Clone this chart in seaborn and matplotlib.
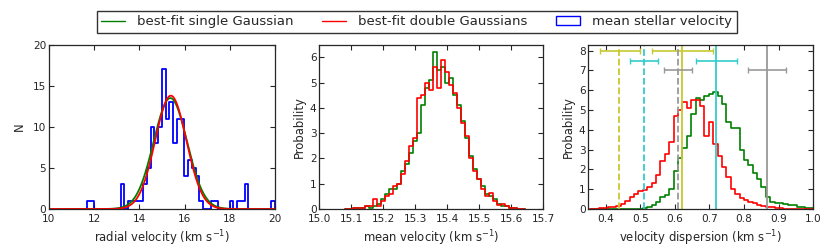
import numpy as np
import pandas as pd
import matplotlib
matplotlib.use("Agg")
import matplotlib.pyplot as plt
import seaborn as sns

sns.set_style("ticks")
plt.rcParams['font.family'] = ['DejaVu Sans']
plt.rcParams['font.size'] = 7.5

# ---------------- Panel 1: radial velocity histogram ----------------
rv_bin_start = 11.68
rv_bin_width = 0.166
rv_counts = [1, 1, 0, 0, 0, 0, 0, 0, 0, 3,
             0, 1, 1, 1, 1, 3, 5, 10, 8, 10,
             17, 11, 13, 8, 11, 11, 4, 6, 5, 4,
             1, 0, 0, 1, 1, 0, 0, 0, 1, 0,
             1, 1, 3, 0, 0, 0, 0, 0, 0, 1]
# Gaussian fit parameters: amplitude, mean, sigma
single_fit = [13.5, 15.37, 0.74]
double_fit = [[10.5, 15.40, 0.68], [3.3, 15.36, 0.72]]

# ---------------- Panel 2: mean velocity posterior ----------------
mv_bin_start = 15.08
mv_bin_width = 0.0125
mv_single = [0.02, 0.0, 0.03, 0.05, 0.05, 0.1, 0.05, 0.1, 0.2, 0.4,
             0.6, 0.8, 0.8, 1.0, 1.5, 1.8, 2.2, 2.7, 3.0, 4.1,
             4.8, 5.1, 6.2, 5.5, 5.6, 5.0, 5.2, 4.5, 4.1, 3.5,
             2.8, 2.1, 1.6, 1.2, 0.9, 0.6, 0.5, 0.4, 0.2, 0.1,
             0.1, 0.05, 0.03, 0.02, 0.0]
mv_double = [0.0, 0.0, 0.05, 0.05, 0.05, 0.1, 0.1, 0.4, 0.1, 0.3,
             0.5, 0.6, 0.9, 1.0, 1.4, 1.9, 2.5, 2.8, 4.4, 4.5,
             5.0, 4.7, 5.6, 4.8, 5.9, 5.4, 4.9, 4.6, 4.0, 3.4,
             2.9, 2.0, 1.5, 1.2, 0.8, 0.5, 0.65, 0.3, 0.15, 0.2,
             0.1, 0.05, 0.03, 0.02, 0.02]

# ---------------- Panel 3: velocity dispersion posterior ----------------
vd_bin_start = 0.355
vd_bin_width = 0.0127
vd_single = [0, 0, 0, 0, 0, 0, 0, 0, 0, 0,
             0, 0, 0.05, 0.1, 0.2, 0.35, 0.6, 0.7, 1.0, 1.9,
             2.6, 3.1, 3.7, 4.8, 5.6, 5.5, 5.7, 5.8, 5.9, 5.7,
             5.3, 4.4, 4.1, 4.1, 3.0, 2.5, 2.2, 1.8, 1.5, 1.1,
             0.6, 0.35, 0.3, 0.3, 0.25, 0.2, 0.2, 0.1, 0.1, 0.05, 0.05]
vd_double = [0.0, 0.02, 0.05, 0.05, 0.1, 0.1, 0.15, 0.25, 0.4, 0.6,
             0.75, 0.9, 0.95, 1.1, 1.3, 1.7, 2.4, 2.8, 3.4, 4.7,
             5.0, 5.4, 5.1, 5.5, 5.5, 5.2, 3.7, 4.4, 3.3, 2.7,
             2.1, 1.6, 1.0, 0.75, 0.55, 0.45, 0.35, 0.3, 0.2, 0.15,
             0.1, 0.1, 0.05, 0.05, 0.02, 0.0, 0.0, 0.0, 0.0, 0.0, 0.0]

# reference dispersions: value, lower err, upper err, y position
ref_values = [0.44, 0.62, 0.51, 0.72, 0.61, 0.865]
ref_err_lo = [0.055, 0.085, 0.04, 0.06, 0.04, 0.055]
ref_err_hi = [0.06, 0.09, 0.04, 0.06, 0.04, 0.055]
ref_ypos = [8.0, 8.0, 7.5, 7.5, 7.0, 7.0]
ref_colors = ["#c8c832", "#c8c832", "#33cccc", "#33cccc", "#999999", "#999999"]
ref_styles = ["--", "-", "--", "-", "--", "-"]

GREEN = (0, 0.5, 0)
RED = (1, 0, 0)
BLUE = (0, 0, 1)
TICK_FS = 7.6
LABEL_FS = 8.4
LEGEND_FS = 9.5

fig = plt.figure(figsize=(8.3, 2.49), dpi=100)
ax1 = fig.add_axes([0.059, 0.1606, 0.2723, 0.66])
ax2 = fig.add_axes([0.3847, 0.1606, 0.2699, 0.66])
ax3 = fig.add_axes([0.7088, 0.1606, 0.2711, 0.66])


def hist_step(ax, start, width, vals, color, lw=1.2):
    """Outline of a histogram (step), drawn through seaborn's lineplot."""
    vals = np.asarray(vals, dtype=float)
    edges = start + width * np.arange(len(vals) + 1)
    xs = np.repeat(edges, 2)
    ys = np.concatenate([[0.0], np.repeat(vals, 2), [0.0]])
    df = pd.DataFrame({"x": xs, "y": ys})
    sns.lineplot(data=df, x="x", y="y", estimator=None, sort=False,
                 color=color, lw=lw, ax=ax)


# Panel 1
hist_step(ax1, rv_bin_start, rv_bin_width, rv_counts, BLUE, lw=1.3)
xs = np.linspace(10, 20, 600)
g1 = single_fit[0] * np.exp(-0.5 * ((xs - single_fit[1]) / single_fit[2]) ** 2)
g2 = sum(a * np.exp(-0.5 * ((xs - m) / s) ** 2) for a, m, s in double_fit)
sns.lineplot(x=xs, y=g1, color=GREEN, lw=1.3, ax=ax1)
sns.lineplot(x=xs, y=g2, color=RED, lw=1.3, ax=ax1)
ax1.set_xlim(10, 20)
ax1.set_ylim(0, 20)
ax1.set_xticks(np.arange(10, 21, 2))
ax1.set_yticks([0, 5, 10, 15, 20])
ax1.set_xlabel("radial velocity (km s$^{-1}$)")
ax1.set_ylabel("N")

# Panel 2
hist_step(ax2, mv_bin_start, mv_bin_width, mv_single, GREEN)
hist_step(ax2, mv_bin_start, mv_bin_width, mv_double, RED)
ax2.set_xlim(15.0, 15.7)
ax2.set_ylim(0, 6.5)
ax2.set_xticks(np.round(np.arange(15.0, 15.71, 0.1), 1))
ax2.set_xticklabels([f"{v:.1f}" for v in np.arange(15.0, 15.71, 0.1)])
ax2.set_yticks(range(0, 7))
ax2.set_xlabel("mean velocity (km s$^{-1}$)")
ax2.set_ylabel("Probability")

# Panel 3
hist_step(ax3, vd_bin_start, vd_bin_width, vd_single, GREEN)
hist_step(ax3, vd_bin_start, vd_bin_width, vd_double, RED)
for v, lo, hi, yp, c, ls in zip(ref_values, ref_err_lo, ref_err_hi,
                                ref_ypos, ref_colors, ref_styles):
    ax3.axvline(v, color=c, ls=ls, lw=1.3)
    ax3.errorbar([v], [yp], xerr=[[lo], [hi]], color=c, lw=1.2,
                 capsize=2.5, capthick=1.0, fmt="none")
ax3.set_xlim(0.35, 1.0)
ax3.set_ylim(0, 8.3)
ax3.set_xticks(np.round(np.arange(0.4, 1.01, 0.1), 1))
ax3.set_yticks(range(0, 9))
ax3.set_xlabel("velocity dispersion (km s$^{-1}$)")
ax3.set_ylabel("Probability")

for ax in (ax1, ax2, ax3):
    ax.tick_params(direction="in", top=True, right=True, length=3.5,
                   width=0.8, labelsize=TICK_FS)
    ax.tick_params(axis="x", pad=3.5)
    ax.tick_params(axis="y", pad=2)
    for sp in ax.spines.values():
        sp.set_linewidth(0.9)
        sp.set_visible(True)
    ax.xaxis.label.set_size(LABEL_FS)
    ax.yaxis.label.set_size(LABEL_FS)
    ax.xaxis.labelpad = 3
    if ax.get_legend() is not None:
        ax.get_legend().remove()
ax1.yaxis.labelpad = 5
ax2.yaxis.labelpad = 3
ax3.yaxis.labelpad = 3

from matplotlib.lines import Line2D
from matplotlib.patches import Patch
handles = [Line2D([], [], color=GREEN, lw=1.0),
           Line2D([], [], color=RED, lw=1.0),
           Patch(facecolor="none", edgecolor=BLUE, lw=1.0)]
labels = ["best-fit single Gaussian", "best-fit double Gaussians",
          "mean stellar velocity"]
leg = fig.legend(handles, labels, loc="center", ncol=3,
                 bbox_to_anchor=(0.502, 0.912), frameon=True, fancybox=False,
                 edgecolor="black", fontsize=LEGEND_FS, handlelength=1.8,
                 handletextpad=0.9, columnspacing=2.2, borderpad=0.35)
leg.get_frame().set_linewidth(1.0)

fig.savefig("out.png", dpi=100)
